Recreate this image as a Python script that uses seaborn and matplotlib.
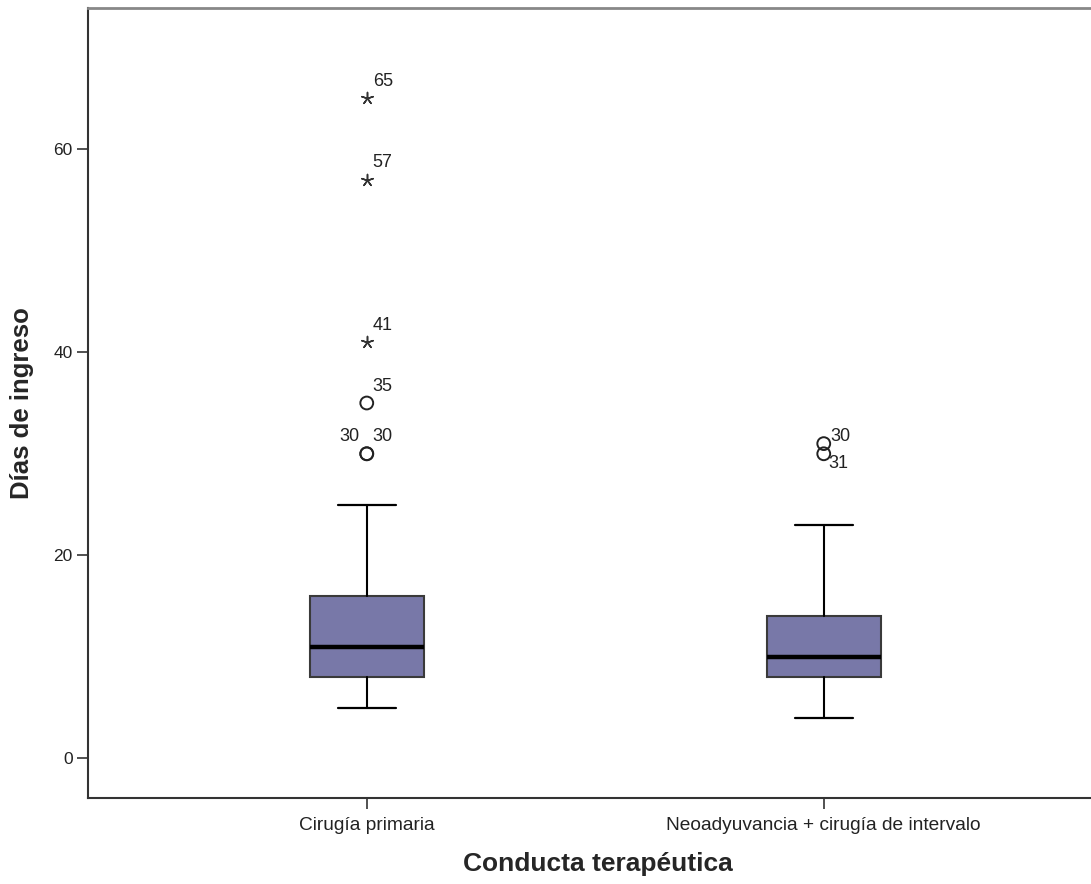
import matplotlib
matplotlib.use("Agg")
import matplotlib.pyplot as plt
import seaborn as sns
import pandas as pd

# ---- data ----
categories = ["Cirugía primaria", "Neoadyuvancia + cirugía de intervalo"]
q1 = [8, 8]
median = [11, 10]
q3 = [16, 14]
whisker_low = [5, 4]
whisker_high = [25, 23]

# outliers: group index, value, label, kind
out_group = [0, 0, 0, 0, 0, 0, 1, 1]
out_value = [65, 57, 41, 35, 30, 30, 31, 30]
out_label = ["65", "57", "41", "35", "30", "30", "30", "31"]
out_kind = ["extreme", "extreme", "extreme", "outlier", "outlier", "outlier", "outlier", "outlier"]
out_label_side = ["right", "right", "right", "right", "left", "right", "right_low", "below"]

yticks = [0, 20, 40, 60]

sns.set_style("white")
plt.rcParams["font.family"] = ["Liberation Sans", "DejaVu Sans"]

fig = plt.figure(figsize=(10.91, 8.84), dpi=100)
ax = fig.add_axes([88 / 1091, (884 - 798) / 884, (1092 - 88) / 1091, (798 - 8) / 884])

stats = []
for i, c in enumerate(categories):
    stats.append(dict(label=c, q1=q1[i], med=median[i], q3=q3[i],
                      whislo=whisker_low[i], whishi=whisker_high[i], fliers=[]))

ax.bxp(stats, positions=[0, 1], widths=0.25, showfliers=False, patch_artist=True,
       capwidths=0.127,
       boxprops=dict(facecolor="#7878a8", edgecolor="#3a3a3a", linewidth=1.5),
       medianprops=dict(color="black", linewidth=3.2, solid_capstyle="butt"),
       whiskerprops=dict(color="black", linewidth=1.5),
       capprops=dict(color="black", linewidth=1.6))

df = pd.DataFrame(dict(g=out_group, v=out_value, lab=out_label, kind=out_kind, side=out_label_side))
circ = df[df.kind == "outlier"]
star = df[df.kind == "extreme"]
sns.scatterplot(x=circ.g, y=circ.v, ax=ax, marker="o", s=85, facecolors="none",
                edgecolors="#222222", linewidth=1.4, zorder=5)
sns.scatterplot(x=star.g, y=star.v, ax=ax, marker=(5, 2, 0), s=75, color="#333333",
                edgecolor="#333333", linewidth=1.1, zorder=5)

offsets = {"right": (6, 17, "left"), "left": (-7, 17, "right"),
           "right_low": (7, 7, "left"), "below": (5, -10, "left")}
for _, r in df.iterrows():
    dx, dy, ha = offsets[r.side]
    ax.annotate(r.lab, (r.g, r.v), xytext=(dx, dy), textcoords="offset pixels",
                ha=ha, va="center", fontsize=13, color="#222222")

ax.set_xlim(-0.61, 1.587)
ax.set_ylim(-3.9, 73.9)
ax.set_yticks(yticks)
ax.set_xticks([0, 1])
ax.set_xticklabels(categories)
ax.tick_params(axis="both", which="both", direction="out", length=8, width=1.2,
               color="#333333", labelcolor="#222222", pad=3,
               left=True, bottom=True)
ax.tick_params(axis="y", labelsize=12.5)
ax.tick_params(axis="x", labelsize=13.8, pad=6)

for s in ["left", "bottom"]:
    ax.spines[s].set_color("#333333")
    ax.spines[s].set_linewidth(1.5)
ax.spines["top"].set_color("#888888")
ax.spines["top"].set_linewidth(2)
ax.spines["right"].set_visible(False)

ax.set_ylabel("Días de ingreso", fontsize=18.5, fontweight="bold", labelpad=14)
ax.set_xlabel("Conducta terapéutica", fontsize=19, fontweight="bold", labelpad=16)
ax.xaxis.set_label_coords((598 - 88) / 1004, -0.068)
ax.grid(False)

fig.savefig("out.png", dpi=100)
